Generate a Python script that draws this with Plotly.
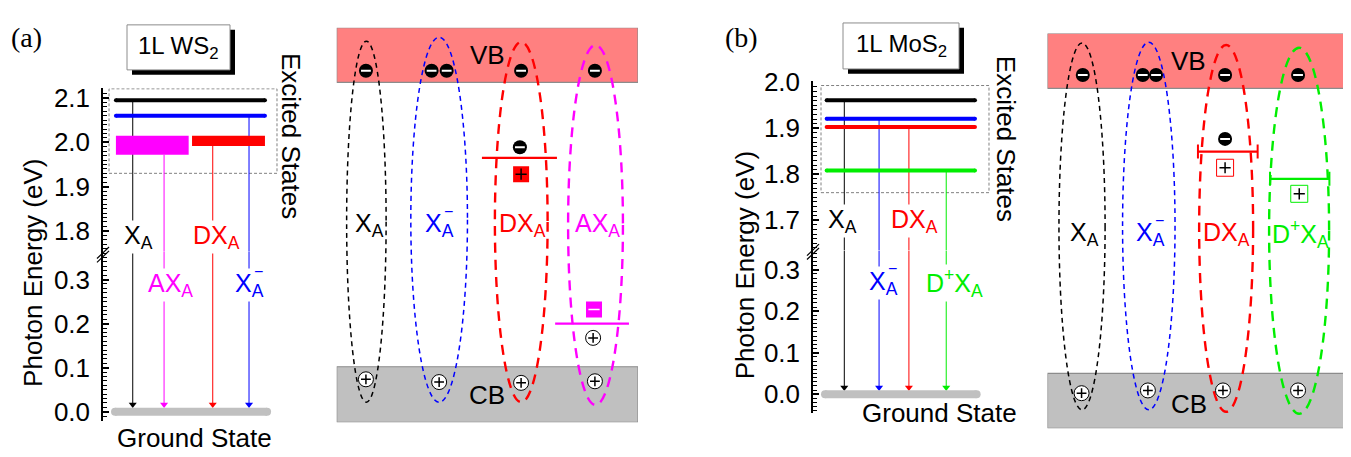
import plotly.graph_objects as go

# the page places the figure 8 px from the top-left corner of the window
OFF = 8
W, H = 1351 - OFF, 457 - OFF
SANS = "Liberation Sans, Arial, Helvetica, sans-serif"
SERIF = "Liberation Serif, Times New Roman, serif"

# ---------------- data ----------------
# (a) 1L WS2 : excited-state energies (eV)
ws2_labels = ["X<sub>A</sub>", "X<sub>A</sub>", "AX<sub>A</sub>", "DX<sub>A</sub>"]
ws2_sup = ["", "\u2212", "", ""]
ws2_colors = ["#000000", "#0000FF", "#FF00FF", "#FF0000"]
ws2_e_top = [2.095, 2.060, 2.015, 2.015]
ws2_e_bot = [2.095, 2.060, 1.972, 1.992]

# (b) 1L MoS2 : excited-state energies (eV)
mos2_labels = ["X<sub>A</sub>", "X<sub>A</sub>", "DX<sub>A</sub>", "D<sup>+</sup>X<sub>A</sub>"]
mos2_sup = ["", "\u2212", "", ""]
mos2_colors = ["#000000", "#0000FF", "#FF0000", "#00EE00"]
mos2_e_top = [1.961, 1.921, 1.903, 1.808]
mos2_e_bot = [1.961, 1.921, 1.903, 1.808]

# band diagrams: species per column
ws2_diag_labels = ["X<sub>A</sub>", "X<sub>A</sub>", "DX<sub>A</sub>", "AX<sub>A</sub>"]
ws2_diag_sup = ["", "\u2212", "", ""]
ws2_diag_colors = ["#000000", "#0000FF", "#FF0000", "#FF00FF"]
ws2_diag_trap = ["", "", "donor", "acceptor"]
mos2_diag_labels = ["X<sub>A</sub>", "X<sub>A</sub>", "DX<sub>A</sub>", "D<sup>+</sup>X<sub>A</sub>"]
mos2_diag_sup = ["", "\u2212", "", ""]
mos2_diag_colors = ["#000000", "#0000FF", "#FF0000", "#00EE00"]
mos2_diag_trap = ["", "", "donor_open", "ion_open"]


def ref(n):
    return ("x" if n == 1 else f"x{n}"), ("y" if n == 1 else f"y{n}")


def key(n):
    return ("xaxis" if n == 1 else f"xaxis{n}"), ("yaxis" if n == 1 else f"yaxis{n}")


def pxx(p):
    return (p - OFF) / W


def pxy(p):
    return 1 - (p - OFF) / H


def dom_x(a, b):
    return [pxx(a), pxx(b)]


def dom_y(top, bot):
    return [pxy(bot), pxy(top)]


fig = go.Figure()
shapes = []
annos = []
layout_axes = {}


def energy_axis(dom, rng, anchor):
    return dict(domain=dom, range=rng, anchor=anchor, showline=True, linecolor="black",
                linewidth=1.5, ticks="inside", ticklen=6, tickwidth=1.5, tickcolor="black",
                dtick=0.1, tick0=0, tickformat=".1f", ticklabelstandoff=6,
                tickfont=dict(family=SANS, size=26, color="black"),
                minor=dict(dtick=0.01, tick0=0, ticks="inside", ticklen=4, tickwidth=1,
                           tickcolor="black"),
                showgrid=False, zeroline=False, fixedrange=True)


def add_energy_panel(nu, nl, g, labels, sups, colors, e_top, e_bot):
    xu, yu = ref(nu)
    xl, yl = ref(nl)
    kxu, kyu = key(nu)
    kxl, kyl = key(nl)
    layout_axes[kxu] = dict(domain=dom_x(*g["xdom"]), range=[0, 1], visible=False,
                            anchor=yu, fixedrange=True)
    layout_axes[kxl] = dict(domain=dom_x(*g["xdom"]), range=[0, 1], visible=False,
                            anchor=yl, fixedrange=True)
    layout_axes[kyu] = energy_axis(dom_y(*g["ydom_up"]), g["rng_up"], xu)
    layout_axes[kyl] = energy_axis(dom_y(*g["ydom_lo"]), g["rng_lo"], xl)

    # dotted "excited states" box
    bx = g["box"]
    shapes.append(dict(type="rect", xref=xu, yref=yu, x0=bx[0], x1=bx[1], y0=bx[2], y1=bx[3],
                       line=dict(color="#808080", width=1, dash="3px,2px"), layer="below"))

    # transition arrows
    for i in range(len(labels)):
        xa = g["arrow_x"][i]
        fig.add_trace(go.Scatter(x=[xa, xa], y=[e_bot[i], g["rng_up"][0]], xaxis=xu, yaxis=yu,
                                 mode="lines", line=dict(color=colors[i], width=1),
                                 hoverinfo="skip", showlegend=False))
        fig.add_trace(go.Scatter(x=[xa, xa], y=[g["rng_lo"][1], 0.016], xaxis=xl, yaxis=yl,
                                 mode="lines", line=dict(color=colors[i], width=1),
                                 hoverinfo="skip", showlegend=False))
        fig.add_trace(go.Scatter(x=[xa], y=[0.016], xaxis=xl, yaxis=yl, mode="markers",
                                 marker=dict(symbol="triangle-down", size=7, color=colors[i],
                                             line=dict(width=0)),
                                 hoverinfo="skip", showlegend=False))

    # levels
    for i in range(len(labels)):
        x0, x1 = g["level_x"][i]
        if e_top[i] == e_bot[i]:
            fig.add_trace(go.Scatter(x=[x0, x1], y=[e_top[i], e_top[i]], xaxis=xu, yaxis=yu,
                                     mode="lines+markers", line=dict(color=colors[i], width=4),
                                     marker=dict(size=4, color=colors[i]),
                                     hoverinfo="skip", showlegend=False))
        else:
            fig.add_trace(go.Scatter(x=[x0, x1, x1, x0, x0],
                                     y=[e_bot[i], e_bot[i], e_top[i], e_top[i], e_bot[i]],
                                     xaxis=xu, yaxis=yu, mode="lines", fill="toself",
                                     fillcolor=colors[i], line=dict(width=0, color=colors[i]),
                                     hoverinfo="skip", showlegend=False))

    # ground state bar
    gx = g["ground_x"]
    fig.add_trace(go.Scatter(x=[gx[0], gx[1]], y=[0, 0], xaxis=xl, yaxis=yl,
                             mode="lines+markers", line=dict(color="#C0C0C0", width=8),
                             marker=dict(size=8, color="#C0C0C0"),
                             hoverinfo="skip", showlegend=False))

    # species labels
    for i in range(len(labels)):
        lx, which, ly = g["label_pos"][i]
        xr, yr = (xu, yu) if which == "up" else (xl, yl)
        annos.append(dict(x=lx, y=ly, xref=xr, yref=yr, text=labels[i], showarrow=False,
                          xanchor="center", yanchor="middle",
                          font=dict(family=SANS, size=25, color=colors[i]),
                          bgcolor="white", borderpad=0))
        if sups[i]:
            annos.append(dict(x=lx, y=ly, xref=xr, yref=yr, text=sups[i], showarrow=False,
                              xanchor="center", yanchor="middle", xshift=9, yshift=14,
                              font=dict(family=SANS, size=16, color=colors[i])))

    # break marks
    bxp, byp = g["break"]
    for d in (0, 4):
        shapes.append(dict(type="line", xref="paper", yref="paper",
                           x0=pxx(bxp - 6), x1=pxx(bxp + 6),
                           y0=pxy(byp + 6 + d), y1=pxy(byp - 6 + d),
                           line=dict(color="black", width=1.2)))


def add_diagram(n, g, labels, sups, colors, traps):
    xr, yr = ref(n)
    kx, ky = key(n)
    layout_axes[kx] = dict(domain=dom_x(*g["xdom"]), range=[0, 1], visible=False,
                           anchor=yr, fixedrange=True)
    layout_axes[ky] = dict(domain=dom_y(*g["ydom"]), range=[0, 1], visible=False,
                           anchor=xr, fixedrange=True)
    # bands
    shapes.append(dict(type="rect", xref=xr, yref=yr, x0=0, x1=1, y0=g["vb_y"], y1=1,
                       fillcolor="#FF8080", line=dict(color="#8C8C8C", width=1.2), layer="below"))
    shapes.append(dict(type="rect", xref=xr, yref=yr, x0=0, x1=1, y0=0, y1=g["cb_y"],
                       fillcolor="#C0C0C0", line=dict(color="#8C8C8C", width=1.2), layer="below"))
    annos.append(dict(x=g["vb_txt"][0], y=g["vb_txt"][1], xref=xr, yref=yr, text="VB",
                      xanchor="center", yanchor="middle",
                      showarrow=False, font=dict(family=SANS, size=26, color="black")))
    annos.append(dict(x=g["cb_txt"][0], y=g["cb_txt"][1], xref=xr, yref=yr, text="CB",
                      xanchor="center", yanchor="middle",
                      showarrow=False, font=dict(family=SANS, size=26, color="black")))
    # ellipses
    for i in range(4):
        e = g["ell"][i]
        heavy = i >= 2
        shapes.append(dict(type="circle", xref=xr, yref=yr, x0=e[0], x1=e[1], y0=e[3], y1=e[2],
                           line=dict(color=colors[i], width=2.4 if heavy else 1.5,
                                     dash="10px,7px" if heavy else "5px,4px"),
                           layer="below"))
    # electrons / holes
    ex, ey = [], []
    for i in range(4):
        for xv in g["el_x"][i]:
            ex.append(xv)
            ey.append(g["el_y"])
    hx = [h[0] for h in g["holes"]]
    hy = [h[1] for h in g["holes"]]

    # traps
    for i in range(4):
        t = traps[i]
        if not t:
            continue
        tg = g["trap"][i]
        c = colors[i]
        caps = t in ("donor_open", "ion_open")
        fig.add_trace(go.Scatter(x=[tg["x0"], tg["x1"]], y=[tg["y"], tg["y"]], xaxis=xr, yaxis=yr,
                                 mode="lines+markers" if caps else "lines",
                                 line=dict(color=c, width=2.2),
                                 marker=dict(symbol="line-ns", size=10, line=dict(color=c, width=2)),
                                 hoverinfo="skip", showlegend=False))
        if "e" in tg:
            ex.append(tg["e"][0])
            ey.append(tg["e"][1])
        if "h" in tg:
            hx.append(tg["h"][0])
            hy.append(tg["h"][1])
        sx, sy = tg["sq"]
        if t == "donor":
            fig.add_trace(go.Scatter(x=[sx], y=[sy], xaxis=xr, yaxis=yr, mode="markers",
                                     marker=dict(symbol="square", size=16, color=c),
                                     hoverinfo="skip", showlegend=False))
            fig.add_trace(go.Scatter(x=[sx], y=[sy], xaxis=xr, yaxis=yr, mode="markers",
                                     marker=dict(symbol="cross-thin", size=8,
                                                 line=dict(color="black", width=1.5)),
                                     hoverinfo="skip", showlegend=False))
        elif t == "acceptor":
            fig.add_trace(go.Scatter(x=[sx], y=[sy], xaxis=xr, yaxis=yr, mode="markers",
                                     marker=dict(symbol="square", size=16, color=c),
                                     hoverinfo="skip", showlegend=False))
            fig.add_trace(go.Scatter(x=[sx], y=[sy], xaxis=xr, yaxis=yr, mode="markers",
                                     marker=dict(symbol="line-ew", size=8,
                                                 line=dict(color="white", width=1.5)),
                                     hoverinfo="skip", showlegend=False))
        else:
            fig.add_trace(go.Scatter(x=[sx], y=[sy], xaxis=xr, yaxis=yr, mode="markers",
                                     marker=dict(symbol="square", size=17, color="white",
                                                 line=dict(color=c, width=1)),
                                     hoverinfo="skip", showlegend=False))
            fig.add_trace(go.Scatter(x=[sx], y=[sy], xaxis=xr, yaxis=yr, mode="markers",
                                     marker=dict(symbol="cross-thin", size=8,
                                                 line=dict(color="black", width=1.5)),
                                     hoverinfo="skip", showlegend=False))

    fig.add_trace(go.Scatter(x=ex, y=ey, xaxis=xr, yaxis=yr, mode="markers",
                             marker=dict(symbol="circle", size=14, color="black"),
                             hoverinfo="skip", showlegend=False))
    fig.add_trace(go.Scatter(x=ex, y=ey, xaxis=xr, yaxis=yr, mode="markers",
                             marker=dict(symbol="line-ew", size=7, line=dict(color="white", width=2)),
                             hoverinfo="skip", showlegend=False))
    fig.add_trace(go.Scatter(x=hx, y=hy, xaxis=xr, yaxis=yr, mode="markers",
                             marker=dict(symbol="circle", size=15, color="white",
                                         line=dict(color="black", width=1)),
                             hoverinfo="skip", showlegend=False))
    fig.add_trace(go.Scatter(x=hx, y=hy, xaxis=xr, yaxis=yr, mode="markers",
                             marker=dict(symbol="cross-thin", size=7, line=dict(color="black", width=1.5)),
                             hoverinfo="skip", showlegend=False))
    # labels
    for i in range(4):
        annos.append(dict(x=g["lab_x"][i], y=g["lab_y"], xref=xr, yref=yr, text=labels[i],
                          xanchor="center", yanchor="middle",
                          showarrow=False, font=dict(family=SANS, size=25, color=colors[i])))
        if sups[i]:
            annos.append(dict(x=g["lab_x"][i], y=g["lab_y"], xref=xr, yref=yr, text=sups[i],
                              xanchor="center", yanchor="middle",
                              showarrow=False, xshift=9, yshift=14,
                              font=dict(family=SANS, size=16, color=colors[i])))


# ---------------- geometry (layout only, window pixels) ----------------
geo_a = dict(
    xdom=(103, 280), ydom_up=(77.3, 248), rng_up=[1.7525, 2.122],
    ydom_lo=(248, 425), rng_lo=[-0.022, 0.363],
    box=(0.034, 0.983, 1.93, 2.121),
    level_x=[(0.073, 0.915), (0.073, 0.915), (0.073, 0.484), (0.503, 0.915)],
    arrow_x=[0.168, 0.825, 0.345, 0.620],
    label_pos=[(0.198, "up", 1.785), (0.825, "lo", 0.287), (0.379, "lo", 0.287), (0.644, "up", 1.785)],
    ground_x=(0.068, 0.927), **{"break": (103, 249)})
geo_b = dict(
    xdom=(813, 995), ydom_up=(70, 246.7), rng_up=[1.634, 2.002],
    ydom_lo=(246.7, 416.7), rng_lo=[-0.0462, 0.3462],
    box=(0.044, 0.967, 1.76, 1.993),
    level_x=[(0.075, 0.890)] * 4,
    arrow_x=[0.172, 0.363, 0.527, 0.732],
    label_pos=[(0.162, "up", 1.698), (0.390, "lo", 0.269), (0.560, "up", 1.698), (0.780, "lo", 0.269)],
    ground_x=(0.066, 0.899), **{"break": (813, 246)})

dg_a = dict(
    xdom=(336.7, 638), ydom=(14, 426), vb_y=0.8617, cb_y=0.1408,
    vb_txt=(0.499, 0.932), cb_txt=(0.499, 0.068),
    ell=[(0.033, 0.164, 0.966, 0.051), (0.246, 0.434, 0.976, 0.051),
         (0.525, 0.700, 0.964, 0.051), (0.768, 0.950, 0.956, 0.044)],
    el_x=[[0.097], [0.315, 0.365], [0.612], [0.857]], el_y=0.891,
    holes=[(0.097, 0.109), (0.340, 0.102), (0.612, 0.100), (0.857, 0.104)],
    trap={2: dict(x0=0.482, x1=0.731, y=0.670, e=(0.608, 0.697), sq=(0.612, 0.629)),
          3: dict(x0=0.725, x1=0.970, y=0.250, h=(0.851, 0.214), sq=(0.854, 0.286))},
    lab_x=[0.11, 0.34, 0.615, 0.867], lab_y=0.5)
dg_b = dict(
    xdom=(1047.5, 1349), ydom=(20, 432.3), vb_y=0.861, cb_y=0.139,
    vb_txt=(0.469, 0.930), cb_txt=(0.469, 0.061),
    ell=[(0.038, 0.191, 0.976, 0.047), (0.249, 0.423, 0.978, 0.047),
         (0.503, 0.682, 0.971, 0.042), (0.735, 0.934, 0.964, 0.037)],
    el_x=[[0.117], [0.316, 0.360], [0.589], [0.831]], el_y=0.895,
    holes=[(0.113, 0.089), (0.333, 0.096), (0.582, 0.096), (0.831, 0.096)],
    trap={2: dict(x0=0.499, x1=0.697, y=0.701, e=(0.589, 0.733), sq=(0.589, 0.660)),
          3: dict(x0=0.738, x1=0.935, y=0.632, sq=(0.835, 0.594))},
    lab_x=[0.124, 0.342, 0.594, 0.838], lab_y=0.491)

add_energy_panel(1, 2, geo_a, ws2_labels, ws2_sup, ws2_colors, ws2_e_top, ws2_e_bot)
add_diagram(3, dg_a, ws2_diag_labels, ws2_diag_sup, ws2_diag_colors, ws2_diag_trap)
add_energy_panel(4, 5, geo_b, mos2_labels, mos2_sup, mos2_colors, mos2_e_top, mos2_e_bot)
add_diagram(6, dg_b, mos2_diag_labels, mos2_diag_sup, mos2_diag_colors, mos2_diag_trap)


# ---------------- paper annotations ----------------
def title_box(x0, x1, y0, y1, text):
    shapes.append(dict(type="rect", xref="paper", yref="paper", x0=pxx(x0 + 5), x1=pxx(x1 + 5),
                       y0=pxy(y1 + 5), y1=pxy(y0 + 5), fillcolor="black",
                       line=dict(width=0)))
    shapes.append(dict(type="rect", xref="paper", yref="paper", x0=pxx(x0), x1=pxx(x1),
                       y0=pxy(y1), y1=pxy(y0), fillcolor="white",
                       line=dict(color="#8C8C8C", width=1)))
    annos.append(dict(x=pxx((x0 + x1) / 2), y=pxy((y0 + y1) / 2), xref="paper", yref="paper",
                      xanchor="center", yanchor="middle",
                      text=text, showarrow=False, font=dict(family=SANS, size=24, color="black")))


title_box(127, 230, 11, 58, "1L WS<sub>2</sub>")
title_box(843, 959, 9, 57, "1L MoS<sub>2</sub>")


def ptext(x, y, text, size, angle=0, family=SANS):
    annos.append(dict(x=pxx(x), y=pxy(y), xref="paper", yref="paper", text=text,
                      xanchor="center", yanchor="middle",
                      showarrow=False, textangle=angle,
                      font=dict(family=family, size=size, color="black")))


ptext(26, 24, "(a)", 28, family=SERIF)
ptext(742, 24, "(b)", 28, family=SERIF)
ptext(33, 270, "Photon Energy (eV)", 26, -90)
ptext(745, 262, "Photon Energy (eV)", 26, -90)
ptext(291, 127, "Excited States", 26, 90)
ptext(1006, 130, "Excited States", 26, 90)
ptext(194, 442, "Ground State", 26)
ptext(939, 416, "Ground State", 26)

fig.update_layout(width=W, height=H, margin=dict(l=0, r=0, t=0, b=0),
                  paper_bgcolor="white", plot_bgcolor="rgba(0,0,0,0)",
                  showlegend=False, shapes=shapes, annotations=annos, **layout_axes)
fig.write_html("out.html")
